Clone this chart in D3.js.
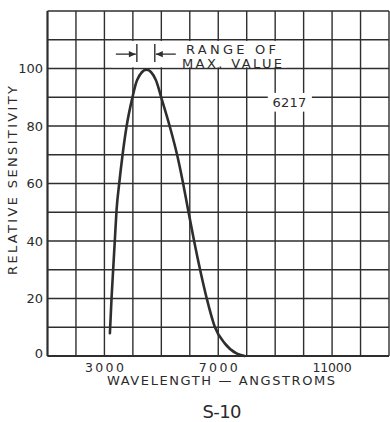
<!DOCTYPE html>
<html><head><meta charset="utf-8">
<script src="https://cdn.jsdelivr.net/npm/d3@7/dist/d3.min.js"></script>
<style>body{margin:0;background:#fff}svg{display:block}text{font-family:"DejaVu Sans",sans-serif;fill:#2b2b2b}</style>
</head><body><svg id="c" width="390" height="422"></svg>
<script>
// Data
const wavelength = [3193,3252,3310,3368,3427,3520,3637,3778,3977,4150,4480,4807,5006,5298,5556,5766,5941,6140,6351,6586,6877,7228,7639,7930];
const sensitivity = [7.9,20.4,30.5,40.6,50.8,60,69.9,79.8,89.6,96,99.6,96,89.6,79.8,69.9,60,50.8,40.6,30.5,20.4,10.2,4.4,0.9,0];
const xTicks = [3000,7000,11000];
const yTicks = [0,20,40,60,80,100];
const xGrid = d3.range(1000,13001,1000);
const yGrid = d3.range(0,121,10);
const maxRange = [4140,4770];
const curveLabel = "6217";
const title = "S-10";

const svg = d3.select("#c");
const x = d3.scaleLinear().domain([1000,13000]).range([47.5,389]);
const y = d3.scaleLinear().domain([0,120]).range([356,11]);
const ink = "#2e2e2e";

// grid
const g = svg.append("g").attr("stroke",ink).attr("stroke-width",1.4);
g.selectAll(".v").data(xGrid).join("line").attr("x1",d=>x(d)).attr("x2",d=>x(d)).attr("y1",y(120)).attr("y2",y(0));
g.selectAll(".h").data(yGrid).join("line").attr("y1",d=>y(d)).attr("y2",d=>y(d)).attr("x1",x(1000)).attr("x2",x(13000));
svg.append("line").attr("x1",x(1000)).attr("x2",x(1000)).attr("y1",y(120)).attr("y2",y(0)).attr("stroke",ink).attr("stroke-width",2);
svg.append("line").attr("x1",x(1000)).attr("x2",x(13000)).attr("y1",y(0)).attr("y2",y(0)).attr("stroke",ink).attr("stroke-width",2);

// masks behind annotations
svg.append("rect").attr("x",x(3260)).attr("width",x(9400)-x(3260)).attr("y",y(110)+1.2).attr("height",y(100)-y(110)-2.4).attr("fill","#fff");
svg.append("rect").attr("x",x(8740)).attr("width",x(10290)-x(8740)).attr("y",y(91.5)).attr("height",y(85)-y(91.5)).attr("fill","#fff");

// curve
const line = d3.line().x((d,i)=>x(wavelength[i])).y(d=>y(d)).curve(d3.curveMonotoneX);
svg.append("path").attr("d",line(sensitivity)).attr("fill","none").attr("stroke",ink).attr("stroke-width",2.6).attr("stroke-linecap","round");

// range of max value annotation
const ay = y(105);
maxRange.forEach(v=>{
  svg.append("line").attr("x1",x(v)).attr("x2",x(v)).attr("y1",y(108.5)).attr("y2",y(102.3)).attr("stroke",ink).attr("stroke-width",1.4);
});
svg.append("line").attr("x1",x(maxRange[0])-21).attr("x2",x(maxRange[0])-1).attr("y1",ay).attr("y2",ay).attr("stroke",ink).attr("stroke-width",1.3);
svg.append("line").attr("x1",x(maxRange[1])+21).attr("x2",x(maxRange[1])+1).attr("y1",ay).attr("y2",ay).attr("stroke",ink).attr("stroke-width",1.3);
svg.append("path").attr("d",`M${x(maxRange[0])-1},${ay}l-7,-3.2l0,6.4z`).attr("fill",ink);
svg.append("path").attr("d",`M${x(maxRange[1])+1},${ay}l7,-3.2l0,6.4z`).attr("fill",ink);
svg.append("text").attr("x",186).attr("y",53.5).attr("font-size",13).attr("textLength",90).attr("lengthAdjust","spacing").text("RANGE OF");
svg.append("text").attr("x",182).attr("y",67.5).attr("font-size",13).attr("textLength",100).attr("lengthAdjust","spacing").text("MAX. VALUE");
svg.append("text").attr("x",x(9500)).attr("y",y(88.3)).attr("dy","0.36em").attr("text-anchor","middle").attr("font-size",13).attr("textLength",34).attr("lengthAdjust","spacing").text(curveLabel);

// tick labels
svg.selectAll(".yt").data(yTicks).join("text").attr("x",43).attr("y",d=>y(d)-(d===0?3:0)).attr("dy","0.36em").attr("text-anchor","end").attr("font-size",13).text(d=>d);
svg.selectAll(".xt").data(xTicks).join("text").attr("x",d=>x(d)).attr("y",371.5).attr("text-anchor","middle").attr("font-size",12.5).attr("textLength",39).attr("lengthAdjust","spacing").text(d=>d);

// axis titles
svg.append("text").attr("x",221).attr("y",385).attr("text-anchor","middle").attr("font-size",13).attr("textLength",228).attr("lengthAdjust","spacing").text("WAVELENGTH — ANGSTROMS");
svg.append("text").attr("transform","translate(17,180.5) rotate(-90)").attr("text-anchor","middle").attr("font-size",13).attr("textLength",189).attr("lengthAdjust","spacing").text("RELATIVE SENSITIVITY");
svg.append("text").attr("x",222).attr("y",418).attr("text-anchor","middle").attr("font-size",18).attr("textLength",39).attr("lengthAdjust","spacing").text(title);
</script></body></html>
